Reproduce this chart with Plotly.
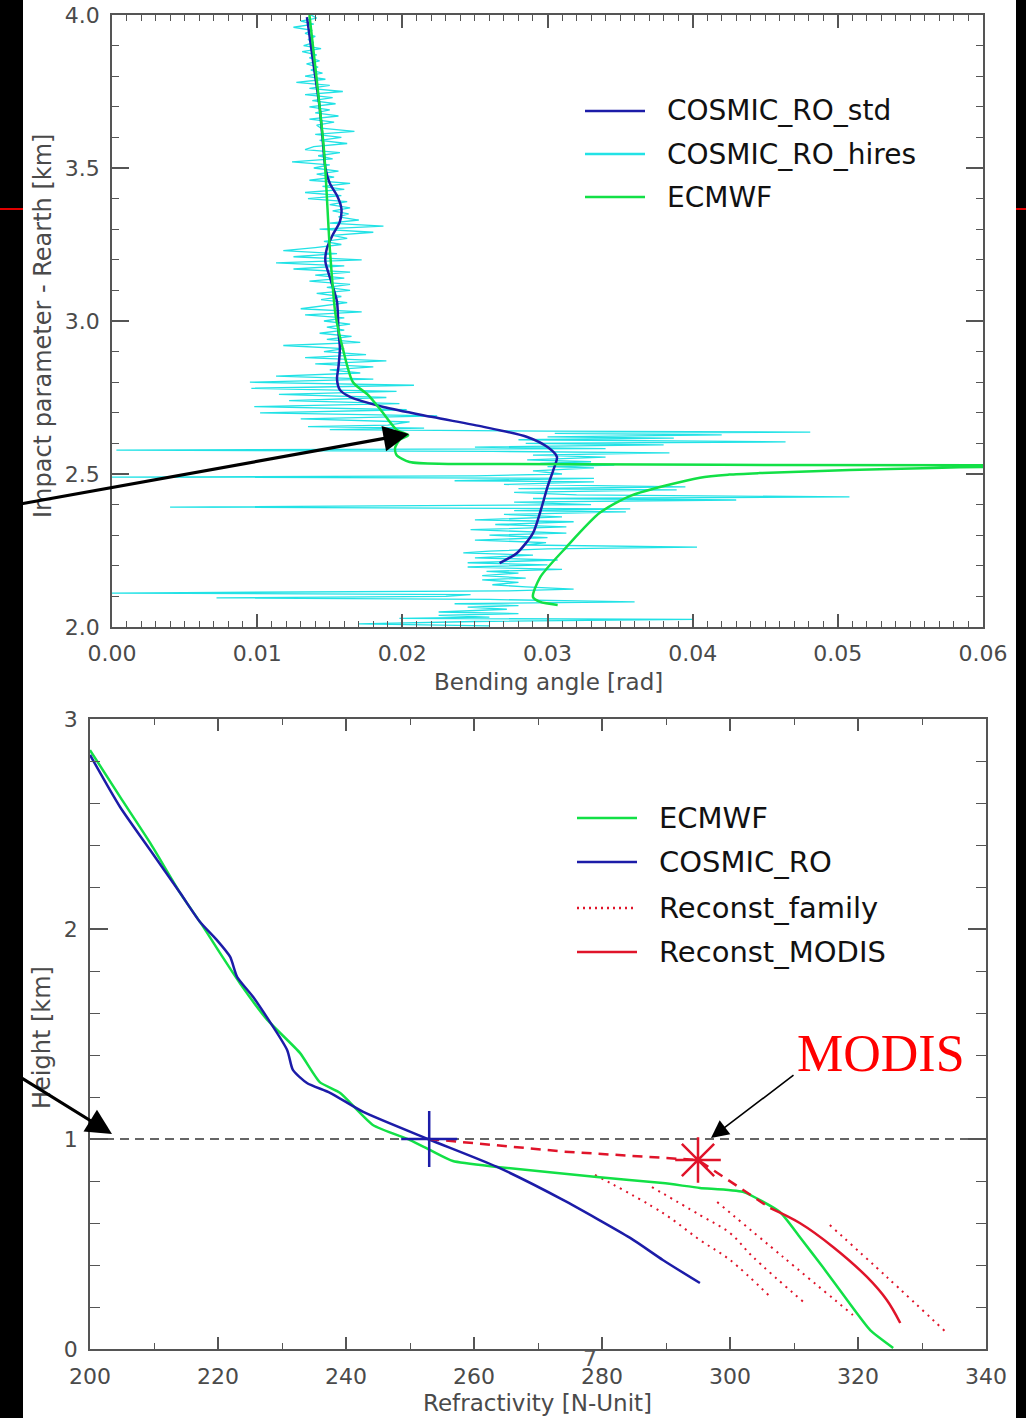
import plotly.graph_objects as go

W, H = 1026, 1418

# ================= top panel: bending angle [rad] vs impact parameter [km] =================
std_ba = [0.01343, 0.0137, 0.0140, 0.0143, 0.0145, 0.0147, 0.0150, 0.0155, 0.0158, 0.0157,
          0.0152, 0.0148, 0.0147, 0.0151, 0.0155, 0.0156, 0.0157, 0.0156, 0.0155, 0.0157,
          0.0164, 0.0187, 0.0221, 0.0256, 0.0286, 0.0300, 0.03065, 0.0304, 0.0300, 0.0296,
          0.0290, 0.0279, 0.0267]
std_ip = [3.993, 3.90, 3.80, 3.70, 3.60, 3.50, 3.45, 3.41, 3.368, 3.325,
          3.281, 3.237, 3.194, 3.129, 3.063, 2.965, 2.911, 2.85, 2.81, 2.775,
          2.752, 2.719, 2.686, 2.654, 2.621, 2.588, 2.556, 2.513, 2.458, 2.392,
          2.307, 2.242, 2.209]

ec_ba = [0.0136, 0.0146, 0.0150, 0.0154, 0.0159, 0.0166, 0.0176, 0.0185, 0.0196, 0.0204,
         0.0198, 0.0195, 0.0196, 0.0205, 0.0233, 0.0600, 0.0680, 0.0600, 0.0566, 0.0508,
         0.0446, 0.0425, 0.0405, 0.0358, 0.0336, 0.0313, 0.0295, 0.0290, 0.0295, 0.0307]
ec_ip = [4.00, 3.56, 3.24, 3.02, 2.91, 2.80, 2.76, 2.71, 2.645, 2.627,
         2.611, 2.585, 2.562, 2.539, 2.533, 2.529, 2.526, 2.523, 2.520, 2.513,
         2.503, 2.498, 2.488, 2.430, 2.373, 2.261, 2.163, 2.098, 2.082, 2.072]

hires_ip = [4.00, 3.99, 3.98, 3.97, 3.96, 3.95, 3.94, 3.93, 3.92, 3.91,
            3.90, 3.89, 3.88, 3.87, 3.86, 3.85, 3.84, 3.83, 3.82, 3.81,
            3.80, 3.79, 3.78, 3.77, 3.76, 3.75, 3.74, 3.73, 3.72, 3.71,
            3.70, 3.69, 3.68, 3.67, 3.66, 3.65, 3.64, 3.63, 3.62, 3.61,
            3.60, 3.59, 3.58, 3.57, 3.56, 3.55, 3.54, 3.53, 3.52, 3.51,
            3.50, 3.49, 3.48, 3.47, 3.46, 3.45, 3.44, 3.43, 3.42, 3.41,
            3.40, 3.39, 3.38, 3.37, 3.36, 3.35, 3.34, 3.33, 3.32, 3.31,
            3.30, 3.29, 3.28, 3.27, 3.26, 3.25, 3.24, 3.23, 3.22, 3.21,
            3.20, 3.19, 3.18, 3.17, 3.16, 3.15, 3.14, 3.13, 3.12, 3.11,
            3.10, 3.09, 3.08, 3.07, 3.06, 3.05, 3.04, 3.03, 3.02, 3.01,
            3.00, 2.99, 2.98, 2.97, 2.96, 2.95, 2.94, 2.93, 2.92, 2.91,
            2.90, 2.89, 2.88, 2.87, 2.86, 2.85, 2.84, 2.83, 2.82, 2.81,
            2.80, 2.79, 2.78, 2.77, 2.76, 2.75, 2.74, 2.73, 2.72, 2.71,
            2.70, 2.69, 2.68, 2.67,
            2.660, 2.655, 2.650, 2.645, 2.640, 2.637, 2.633, 2.628, 2.621, 2.617,
            2.612, 2.605, 2.600, 2.595, 2.588, 2.583, 2.578, 2.574, 2.569, 2.562,
            2.555, 2.546, 2.540, 2.535, 2.529, 2.524, 2.520, 2.510, 2.500, 2.494,
            2.490, 2.486, 2.478, 2.474, 2.466, 2.458, 2.452, 2.448, 2.440, 2.432,
            2.425, 2.420, 2.415, 2.408, 2.400, 2.392, 2.386, 2.380, 2.376, 2.368,
            2.360, 2.350, 2.344, 2.335, 2.327, 2.318, 2.307, 2.300, 2.292, 2.284,
            2.276, 2.268, 2.261, 2.255, 2.248, 2.242, 2.235, 2.226, 2.219, 2.210,
            2.203, 2.196, 2.188, 2.182, 2.176, 2.168, 2.160, 2.154, 2.146, 2.138,
            2.131, 2.124, 2.118, 2.111, 2.106, 2.100, 2.095, 2.090, 2.082, 2.076,
            2.070, 2.065, 2.058, 2.049, 2.044, 2.038, 2.032, 2.028, 2.025, 2.018,
            2.010, 2.004]
hires_ba = [0.0137, 0.0141, 0.0130, 0.0139, 0.0125, 0.0138, 0.0133, 0.0140, 0.0135, 0.0139,
            0.0132, 0.0144, 0.0131, 0.0141, 0.0136, 0.0143, 0.0134, 0.0142, 0.0137, 0.0145,
            0.0133, 0.0147, 0.0127, 0.0150, 0.0136, 0.0159, 0.0133, 0.0152, 0.0138, 0.0154,
            0.0136, 0.0150, 0.0140, 0.0156, 0.0136, 0.0153, 0.0141, 0.0144, 0.0167, 0.0140,
            0.0158, 0.0143, 0.0162, 0.0139, 0.0133, 0.0157, 0.0142, 0.0152, 0.0124, 0.0150,
            0.0139, 0.0156, 0.0141, 0.0153, 0.0136, 0.0164, 0.0145, 0.0160, 0.0133, 0.0158,
            0.0135, 0.0162, 0.0150, 0.0164, 0.0152, 0.0163, 0.0156, 0.0170, 0.0150, 0.0187,
            0.0143, 0.0180, 0.0152, 0.0162, 0.0146, 0.0158, 0.0140, 0.0118, 0.0155, 0.0125,
            0.0172, 0.0113, 0.0160, 0.0125, 0.0164, 0.0140, 0.0160, 0.0136, 0.0164, 0.0148,
            0.0164, 0.0141, 0.0158, 0.0144, 0.0162, 0.0147, 0.0130, 0.0172, 0.0133, 0.0160,
            0.0146, 0.0164, 0.0148, 0.0160, 0.0143, 0.0165, 0.0148, 0.0171, 0.0118, 0.0160,
            0.0146, 0.0175, 0.0133, 0.0189, 0.0140, 0.0180, 0.0150, 0.0171, 0.0113, 0.0180,
            0.0095, 0.0208, 0.0096, 0.0196, 0.0115, 0.0189, 0.0122, 0.0198, 0.0098, 0.0203,
            0.0102, 0.0224, 0.0130, 0.0205,
            0.0190, 0.0135, 0.0215, 0.0150, 0.0300, 0.0481, 0.0305, 0.0420, 0.0300, 0.0387,
            0.0280, 0.0464, 0.0285, 0.0380, 0.0250, 0.0340, 0.0003, 0.0262, 0.0384, 0.0290,
            0.0340, 0.0286, 0.0330, 0.0295, 0.0346, 0.0300, 0.0332, 0.0290, 0.0310, 0.0250,
            0.0000, 0.0332, 0.0236, 0.0332, 0.0270, 0.0395, 0.0280, 0.0389, 0.0277, 0.0320,
            0.0508, 0.0290, 0.0430, 0.0277, 0.0330, 0.0040, 0.0357, 0.0277, 0.0354, 0.0270,
            0.0310, 0.0250, 0.0318, 0.0264, 0.0313, 0.0247, 0.0313, 0.0260, 0.0300, 0.0250,
            0.0299, 0.0285, 0.0403, 0.0300, 0.0260, 0.0242, 0.0290, 0.0250, 0.0307, 0.0245,
            0.0300, 0.0245, 0.0310, 0.0258, 0.0280, 0.0255, 0.0285, 0.0255, 0.0280, 0.0262,
            0.0285, 0.0318, 0.0270, 0.0000, 0.0247, 0.0230, 0.0072, 0.0260, 0.0360, 0.0236,
            0.0280, 0.0245, 0.0272, 0.0225, 0.0280, 0.0225, 0.0260, 0.0198, 0.0400, 0.0250,
            0.0170, 0.0260]

top_x_ticks = [0.00, 0.01, 0.02, 0.03, 0.04, 0.05, 0.06]
top_x_labels = ["0.00", "0.01", "0.02", "0.03", "0.04", "0.05", "0.06"]
top_y_ticks = [2.0, 2.5, 3.0, 3.5, 4.0]
top_y_labels = ["2.0", "2.5", "3.0", "3.5", "4.0"]
top_legend = ["COSMIC_RO_std", "COSMIC_RO_hires", "ECMWF"]

# ================= bottom panel: refractivity [N] vs height [km] =================
ecmwf_n = [200.0, 204.7, 209.4, 214.1, 217.7, 220.3, 223.4, 227.7, 232.8, 235.9,
           239.1, 244.2, 250.0, 253.1, 256.7, 263.6, 279.2, 289.5, 295.3, 302.0,
           307.8, 310.9, 314.5, 318.3, 321.9, 325.5]
ecmwf_h = [2.852, 2.629, 2.410, 2.171, 2.010, 1.886, 1.743, 1.567, 1.410, 1.271,
           1.219, 1.067, 0.995, 0.948, 0.895, 0.867, 0.819, 0.790, 0.767, 0.748,
           0.652, 0.533, 0.390, 0.233, 0.090, 0.005]

cosmic_n = [200.0, 204.7, 209.4, 214.1, 217.2, 219.8, 221.9, 223.0, 225.5, 230.8,
            231.7, 233.9, 237.5, 242.7, 252.8, 263.6, 273.9, 284.4, 289.5, 295.3]
cosmic_h = [2.829, 2.581, 2.376, 2.171, 2.033, 1.948, 1.867, 1.771, 1.676, 1.424,
            1.329, 1.267, 1.220, 1.129, 1.000, 0.867, 0.710, 0.529, 0.424, 0.314]

ro_point_n, ro_point_h = [253.0], [1.0]
modis_n, modis_h = [295.0], [0.90]

link_n = [253.0, 274.0, 295.0, 302.0, 306.3]
link_h = [1.000, 0.940, 0.900, 0.757, 0.671]

reconst_modis_n = [306.3, 310.9, 316.1, 321.4, 324.5, 326.6]
reconst_modis_h = [0.671, 0.600, 0.486, 0.343, 0.233, 0.124]

family_n = [
    [278.9, 289.5, 295.3, 300.0, 306.3],
    [287.8, 295.3, 300.0, 303.6, 312.0],
    [298.0, 308.3, 319.2],
    [315.6, 324.5, 333.9],
]
family_h = [
    [0.829, 0.648, 0.519, 0.424, 0.248],
    [0.771, 0.638, 0.552, 0.438, 0.210],
    [0.700, 0.438, 0.162],
    [0.590, 0.343, 0.076],
]

cloud_top_n = [200.0, 340.0]
cloud_top_h = [1.0, 1.0]

bot_x_ticks = [200, 220, 240, 260, 280, 300, 320, 340]
bot_y_ticks = [0, 1, 2, 3]
bot_legend = ["ECMWF", "COSMIC_RO", "Reconst_family", "Reconst_MODIS"]

# ================= styling =================
BLUE = "#1c1ca8"
CYAN = "#22e2e6"
GREEN = "#12e046"
RED = "#e0142a"
AX = "#555555"
FONT = "DejaVu Sans"
TICKFONT = dict(family=FONT, size=22, color="#4a4a4a")


def fx(px):
    return px / W


def fy(py):
    return 1 - py / H


fig = go.Figure()

# top panel traces
fig.add_trace(go.Scatter(x=hires_ba, y=hires_ip, mode="lines", name=top_legend[1],
                         line=dict(color=CYAN, width=1.3), xaxis="x", yaxis="y"))
fig.add_trace(go.Scatter(x=std_ba, y=std_ip, mode="lines", name=top_legend[0],
                         line=dict(color=BLUE, width=2.5, shape="spline", smoothing=0.7),
                         xaxis="x", yaxis="y"))
fig.add_trace(go.Scatter(x=ec_ba, y=ec_ip, mode="lines", name=top_legend[2],
                         line=dict(color=GREEN, width=2.5, shape="spline", smoothing=0.7),
                         xaxis="x", yaxis="y"))

# bottom panel traces
fig.add_trace(go.Scatter(x=cloud_top_n, y=cloud_top_h, mode="lines",
                         line=dict(color="#333333", width=1.3, dash="9px,6px"),
                         xaxis="x2", yaxis="y2"))
for fn, fh in zip(family_n, family_h):
    fig.add_trace(go.Scatter(x=fn, y=fh, mode="lines", name=bot_legend[2],
                             line=dict(color=RED, width=2, dash="2px,5px", shape="spline"),
                             xaxis="x2", yaxis="y2"))
fig.add_trace(go.Scatter(x=ecmwf_n, y=ecmwf_h, mode="lines", name=bot_legend[0],
                         line=dict(color=GREEN, width=2.5, shape="spline", smoothing=0.5),
                         xaxis="x2", yaxis="y2"))
fig.add_trace(go.Scatter(x=cosmic_n, y=cosmic_h, mode="lines", name=bot_legend[1],
                         line=dict(color=BLUE, width=2.5, shape="spline", smoothing=0.6),
                         xaxis="x2", yaxis="y2"))
fig.add_trace(go.Scatter(x=link_n, y=link_h, mode="lines",
                         line=dict(color=RED, width=2.5, dash="10px,7px"),
                         xaxis="x2", yaxis="y2"))
fig.add_trace(go.Scatter(x=reconst_modis_n, y=reconst_modis_h, mode="lines", name=bot_legend[3],
                         line=dict(color=RED, width=2.5, shape="spline"),
                         xaxis="x2", yaxis="y2"))
fig.add_trace(go.Scatter(x=ro_point_n, y=ro_point_h, mode="markers",
                         marker=dict(symbol="cross-thin", size=40, line=dict(color=BLUE, width=2.5)),
                         xaxis="x2", yaxis="y2"))
fig.add_trace(go.Scatter(x=modis_n, y=modis_h, mode="markers",
                         marker=dict(symbol="asterisk", size=38, line=dict(color=RED, width=2.5)),
                         xaxis="x2", yaxis="y2"))

axis_common = dict(showline=True, linecolor=AX, linewidth=1.6, mirror="allticks",
                   ticks="inside", tickcolor=AX, tickwidth=1.5, showgrid=False,
                   zeroline=False, tickfont=TICKFONT, fixedrange=True, automargin=False)

fig.update_layout(
    width=W, height=H, autosize=False,
    margin=dict(l=0, r=0, t=0, b=0, pad=0, autoexpand=False),
    paper_bgcolor="white", plot_bgcolor="white",
    showlegend=False,
    xaxis=dict(axis_common, domain=[fx(112), fx(983)], range=[0, 0.06], anchor="y",
               tickmode="array", tickvals=top_x_ticks, ticktext=top_x_labels, ticklen=13,
               ticklabelstandoff=6,
               minor=dict(dtick=0.001, tick0=0, ticklen=6, ticks="inside", tickcolor=AX, tickwidth=1.2)),
    yaxis=dict(axis_common, domain=[fy(627), fy(15)], range=[2.0, 4.0], anchor="x",
               tickmode="array", tickvals=top_y_ticks, ticktext=top_y_labels, ticklen=17,
               ticklabelstandoff=6,
               minor=dict(dtick=0.1, tick0=0, ticklen=7, ticks="inside", tickcolor=AX, tickwidth=1.2)),
    xaxis2=dict(axis_common, domain=[fx(90), fx(986)], range=[200, 340], anchor="y2",
                tickmode="array", tickvals=bot_x_ticks, ticklen=12, ticklabelstandoff=7,
                minor=dict(dtick=10, tick0=200, ticklen=6, ticks="inside", tickcolor=AX, tickwidth=1.2)),
    yaxis2=dict(axis_common, domain=[fy(1349), fy(719)], range=[0, 3], anchor="x2",
                tickmode="array", tickvals=bot_y_ticks, ticklen=18, ticklabelstandoff=6,
                minor=dict(dtick=0.2, tick0=0, ticklen=10, ticks="inside", tickcolor=AX, tickwidth=1.2)),
)

shapes = []
annots = []

# legends (top)
top_leg_y = [111, 154, 197]
top_leg_col = [BLUE, CYAN, GREEN]
for name, yy, col in zip(top_legend, top_leg_y, top_leg_col):
    shapes.append(dict(type="line", xref="paper", yref="paper", x0=fx(585), x1=fx(645),
                       y0=fy(yy), y1=fy(yy), line=dict(color=col, width=2.5)))
    annots.append(dict(text=name, xref="paper", yref="paper", x=fx(665), y=fy(yy),
                       xanchor="left", yanchor="middle", showarrow=False,
                       font=dict(family=FONT, size=28, color="#111111")))

# legends (bottom)
bot_leg_y = [818, 862, 908, 952]
bot_leg_style = [(GREEN, "solid"), (BLUE, "solid"), (RED, "2px,4px"), (RED, "solid")]
for name, yy, (col, dash) in zip(bot_legend, bot_leg_y, bot_leg_style):
    shapes.append(dict(type="line", xref="paper", yref="paper", x0=fx(577), x1=fx(637),
                       y0=fy(yy), y1=fy(yy), line=dict(color=col, width=2.5, dash=dash)))
    annots.append(dict(text=name, xref="paper", yref="paper", x=fx(657), y=fy(yy),
                       xanchor="left", yanchor="middle", showarrow=False,
                       font=dict(family=FONT, size=29, color="#111111")))

# axis titles
annots += [
    dict(text="Bending angle [rad]", xref="paper", yref="paper", x=fx(548), y=fy(682),
         xanchor="center", yanchor="middle", showarrow=False,
         font=dict(family=FONT, size=23, color="#4a4a4a")),
    dict(text="Impact parameter - Rearth [km]", xref="paper", yref="paper", x=fx(43), y=fy(326),
         xanchor="center", yanchor="middle", showarrow=False, textangle=-90,
         font=dict(family=FONT, size=24, color="#4a4a4a")),
    dict(text="Height [km]", xref="paper", yref="paper", x=fx(42), y=fy(1038),
         xanchor="center", yanchor="middle", showarrow=False, textangle=-90,
         font=dict(family=FONT, size=24, color="#4a4a4a")),
    dict(text="Refractivity [N-Unit]", xref="paper", yref="paper", x=fx(537), y=fy(1403),
         xanchor="center", yanchor="middle", showarrow=False,
         font=dict(family=FONT, size=23, color="#4a4a4a")),
    dict(text="MODIS", xref="paper", yref="paper", x=fx(881), y=fy(1053),
         xanchor="center", yanchor="middle", showarrow=False,
         font=dict(family="Liberation Serif", size=52, color="#ff0000")),
    dict(text="7", xref="paper", yref="paper", x=fx(590), y=fy(1358),
         xanchor="center", yanchor="middle", showarrow=False,
         font=dict(family=FONT, size=22, color="#555555")),
]

# side bars of the slide
shapes += [
    dict(type="rect", xref="paper", yref="paper", x0=0, x1=fx(23), y0=0, y1=1,
         fillcolor="black", line=dict(width=0), layer="above"),
    dict(type="rect", xref="paper", yref="paper", x0=fx(1016), x1=1, y0=0, y1=1,
         fillcolor="black", line=dict(width=0), layer="above"),
    dict(type="line", xref="paper", yref="paper", x0=0, x1=fx(23), y0=fy(209), y1=fy(209),
         line=dict(color="#e00000", width=2), layer="above"),
    dict(type="line", xref="paper", yref="paper", x0=fx(1016), x1=1, y0=fy(209), y1=fy(209),
         line=dict(color="#e00000", width=2), layer="above"),
]

# arrows
annots += [
    dict(text="", xref="paper", yref="paper", x=fx(409), y=fy(434), ax=-400, ay=72,
         showarrow=True, arrowhead=2, arrowsize=1.6, arrowwidth=3.2, arrowcolor="black",
         standoff=0),
    dict(text="", xref="paper", yref="paper", x=fx(112), y=fy(1134), ax=-105, ay=-65,
         showarrow=True, arrowhead=2, arrowsize=1.6, arrowwidth=3.2, arrowcolor="black",
         standoff=0),
    dict(text="", xref="paper", yref="paper", x=fx(711), y=fy(1138), ax=84, ay=-64,
         showarrow=True, arrowhead=2, arrowsize=2.2, arrowwidth=1.6, arrowcolor="black",
         standoff=0),
]

fig.update_layout(shapes=shapes, annotations=annots)

fig.write_html("out.html")
